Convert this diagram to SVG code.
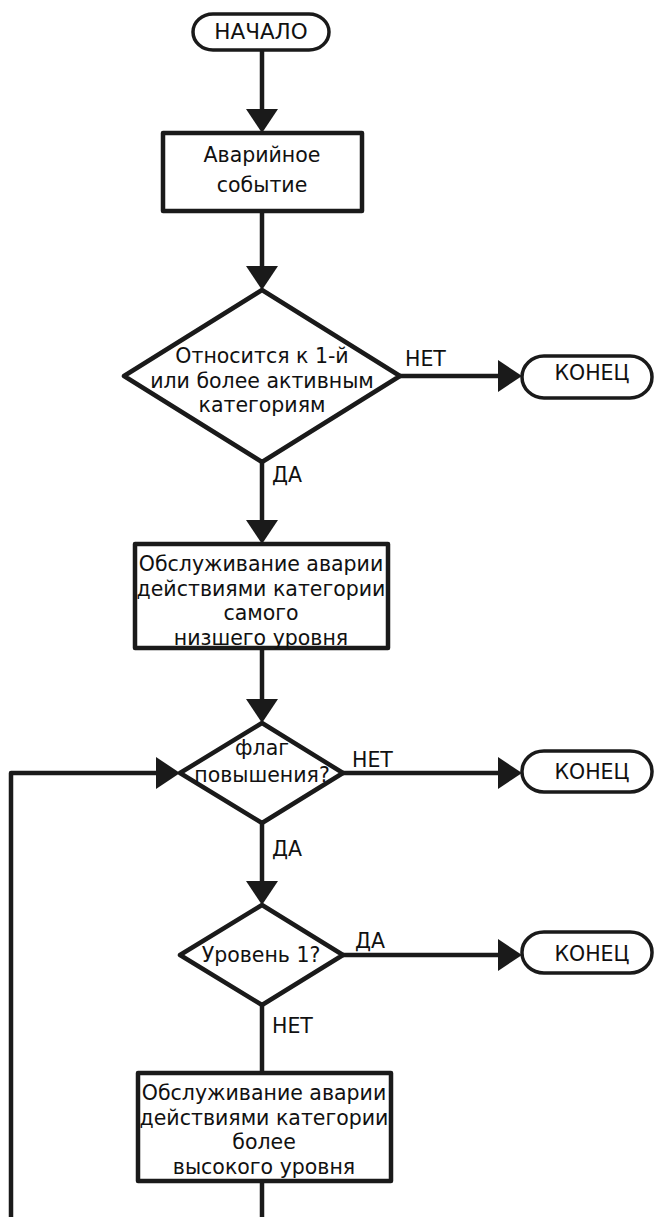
<svg xmlns="http://www.w3.org/2000/svg" width="654" height="1217" viewBox="0 0 654 1217">
<style>
  .shape { fill: #fff; stroke: #1a1a1a; stroke-width: 4.5; stroke-linejoin: round; }
  .term { fill: #fff; stroke: #1a1a1a; stroke-width: 3.5; }
  .conn { fill: none; stroke: #1a1a1a; stroke-width: 4.5; stroke-linejoin: round; }
  text { font-family: "DejaVu Sans", "Liberation Sans", sans-serif; font-size: 20.5px; fill: #111; }
  .c { text-anchor: middle; }
</style>
<defs>
  <marker id="arr" markerUnits="userSpaceOnUse" markerWidth="24" markerHeight="32" refX="0" refY="16" orient="auto" viewBox="0 0 24 32">
    <path d="M0,0 L24,16 L0,32 Z" fill="#1a1a1a"/>
  </marker>
</defs>

<g id="connectors">
  <line class="conn" x1="262" y1="50" x2="262" y2="109" marker-end="url(#arr)"/>
  <line class="conn" x1="262" y1="211" x2="262" y2="266" marker-end="url(#arr)"/>
  <line class="conn" x1="400" y1="376" x2="498" y2="376" marker-end="url(#arr)"/>
  <line class="conn" x1="262" y1="462" x2="262" y2="520" marker-end="url(#arr)"/>
  <line class="conn" x1="262" y1="648" x2="262" y2="699" marker-end="url(#arr)"/>
  <line class="conn" x1="343" y1="773" x2="498" y2="773" marker-end="url(#arr)"/>
  <line class="conn" x1="262" y1="823" x2="262" y2="881" marker-end="url(#arr)"/>
  <line class="conn" x1="343" y1="955" x2="498" y2="955" marker-end="url(#arr)"/>
  <line class="conn" x1="262" y1="1005" x2="262" y2="1073"/>
  <line class="conn" x1="262" y1="1181" x2="262" y2="1220"/>
  <polyline class="conn" points="11,1220 11,773 156,773" marker-end="url(#arr)"/>
  <text x="405" y="366">НЕТ</text>
  <text x="272" y="482">ДА</text>
  <text x="352" y="767">НЕТ</text>
  <text x="272" y="856">ДА</text>
  <text x="355" y="948">ДА</text>
  <text x="272" y="1033">НЕТ</text>
</g>

<g id="start">
  <rect class="term" x="193" y="14" width="136" height="36" rx="20" ry="18"/>
  <text class="c" x="261" y="39" style="font-size:21.5px">НАЧАЛО</text>
</g>

<g id="event">
  <rect class="shape" x="163" y="133" width="199" height="78"/>
  <text class="c" x="262" y="162">Аварийное</text>
  <text class="c" x="262" y="192">событие</text>
</g>

<g id="decision1">
  <polygon class="shape" points="262,290 400,376 262,462 124,376"/>
  <text class="c" x="262" y="363">Относится к 1-й</text>
  <text class="c" x="262" y="387.5">или более активным</text>
  <text class="c" x="262" y="412">категориям</text>
</g>

<g id="end1">
  <rect class="term" x="522" y="356" width="130" height="42" rx="22" ry="21"/>
  <text class="c" x="592" y="380">КОНЕЦ</text>
</g>

<g id="service1">
  <rect class="shape" x="135" y="544" width="253" height="104"/>
  <text class="c" x="261" y="571">Обслуживание аварии</text>
  <text class="c" x="261" y="595.5">действиями категории</text>
  <text class="c" x="261" y="620">самого</text>
  <text class="c" x="261" y="644.5">низшего уровня</text>
</g>

<g id="decision2">
  <polygon class="shape" points="262,723 343,773 262,823 180,773"/>
  <text class="c" x="262" y="755">флаг</text>
  <text class="c" x="262" y="782">повышения?</text>
</g>

<g id="end2">
  <rect class="term" x="522" y="751" width="130" height="41" rx="22" ry="20"/>
  <text class="c" x="592" y="779">КОНЕЦ</text>
</g>

<g id="decision3">
  <polygon class="shape" points="262,905 343,955 262,1005 180,955"/>
  <text class="c" x="261" y="962">Уровень 1?</text>
</g>

<g id="end3">
  <rect class="term" x="522" y="932" width="130" height="41" rx="22" ry="20"/>
  <text class="c" x="592" y="961">КОНЕЦ</text>
</g>

<g id="service2">
  <rect class="shape" x="138" y="1073" width="253" height="108"/>
  <text class="c" x="264" y="1100">Обслуживание аварии</text>
  <text class="c" x="264" y="1124.5">действиями категории</text>
  <text class="c" x="264" y="1149">более</text>
  <text class="c" x="264" y="1173.5">высокого уровня</text>
</g>
</svg>
